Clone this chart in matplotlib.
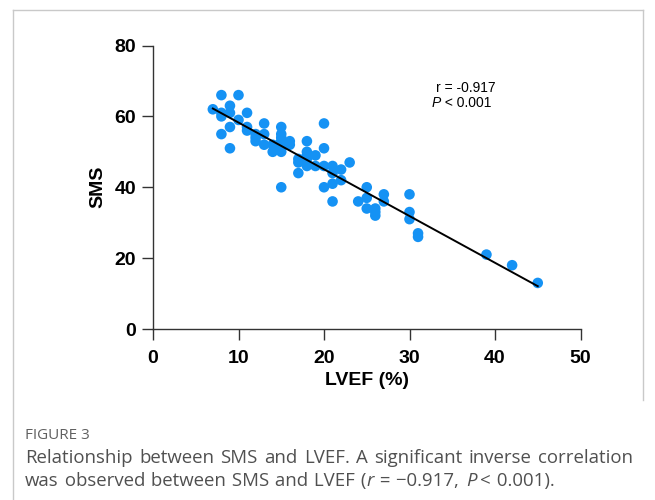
import matplotlib
matplotlib.use("Agg")
import matplotlib.pyplot as plt
import numpy as np
from matplotlib.lines import Line2D

# LVEF (%) and SMS for each patient
lvef = [7,
        8, 8, 8, 8,
        9, 9, 9, 9,
        10, 10,
        11, 11, 11,
        12, 12, 12,
        13, 13, 13,
        14, 14,
        15, 15, 15, 15, 15, 15, 15, 15,
        16, 16,
        17, 17, 17,
        18, 18, 18, 18, 18,
        19, 19,
        20, 20, 20, 20,
        21, 21, 21, 21,
        22, 22,
        23, 24,
        25, 25, 25,
        26, 26, 26,
        27, 27,
        30, 30, 30,
        31, 31,
        39, 42, 45]
sms = [62,
       66, 61, 60, 55,
       63, 61, 57, 51,
       66, 59,
       61, 57, 56,
       55, 54, 53,
       58, 55, 52,
       52, 50,
       57, 55, 54, 53, 52, 51, 50, 40,
       53, 52,
       48, 47, 44,
       53, 50, 49, 48, 46,
       49, 46,
       58, 51, 46, 40,
       46, 44, 41, 36,
       45, 42,
       47, 36,
       40, 37, 34,
       34, 33, 32,
       38, 36,
       38, 33, 31,
       27, 26,
       21, 18, 13]

r_text = "r = -0.917"
p_text = [("P", "italic"), (" < 0.001", "normal")]
fig_title = "FIGURE 3"
caption1 = "Relationship between SMS and LVEF. A significant inverse correlation"
caption2 = [("was", "normal"), (" observed", "normal"), (" between", "normal"),
            (" SMS", "normal"), (" and", "normal"), (" LVEF", "normal"), (" (", "normal"),
            ("r", "italic"), (" =", "normal"), (" \u22120.917,", "normal"), (" ", "normal"),
            ("P", "italic"), ("\u2009<", "normal"), (" 0.001).", "normal")]

W, H = 655, 500
fig = plt.figure(figsize=(W / 100, H / 100), dpi=100)
ax = fig.add_axes([153 / W, 1 - 329 / H, (580.5 - 153) / W, (329 - 45.5) / H])

x = np.array(lvef, dtype=float)
y = np.array(sms, dtype=float)
ax.scatter(x, y, s=58, color="#1592f4", edgecolors="none", zorder=2, clip_on=False)

# least squares line across the data range
k, b = np.polyfit(x, y, 1)
xx = np.array([x.min(), x.max()])
ax.plot(xx, k * xx + b, color="black", lw=1.4, zorder=3)

ax.set_xlim(0, 50)
ax.set_ylim(0, 80)
ax.set_xticks(range(0, 51, 10))
ax.set_yticks(range(0, 81, 20))
for side in ["top", "right"]:
    ax.spines[side].set_visible(False)
for side in ["left", "bottom"]:
    ax.spines[side].set_color("#333333")
    ax.spines[side].set_linewidth(1.0)
ax.tick_params(length=8, width=1.0, color="#333333")
ax.tick_params(axis="x", pad=7)
ax.tick_params(axis="y", pad=4)
for lab in ax.get_xticklabels() + ax.get_yticklabels():
    lab.set_family("Liberation Sans")
    lab.set_fontweight("bold")
    lab.set_fontsize(14)
ax.set_xlabel("LVEF (%)", family="Liberation Sans", fontweight="bold", fontsize=14, labelpad=4)
ax.set_ylabel("SMS", family="Liberation Sans", fontweight="bold", fontsize=14, labelpad=6)

# panel border and caption rule
border = "#c9c9c9"
fig.add_artist(Line2D([12.5 / W, 12.5 / W], [0, 1 - 10 / H], color=border, lw=1))
fig.add_artist(Line2D([12.5 / W, 642.5 / W], [1 - 10 / H, 1 - 10 / H], color=border, lw=1))
fig.add_artist(Line2D([642.5 / W, 642.5 / W], [1 - 10 / H, 1 - 400 / H], color=border, lw=1))

fig.canvas.draw()
renderer = fig.canvas.get_renderer()


def run(x0, ybase, parts, font, gap=0.0):
    xpos = x0
    for txt, st in parts:
        t = fig.text(xpos / W, 1 - ybase / H, txt, style=st, **font)
        xpos += t.get_window_extent(renderer).width + gap
    return xpos


stat_font = dict(family="Liberation Sans", fontsize=10, color="black", va="baseline")
run(436, 92, [(r_text, "normal")], stat_font)
run(432, 107, p_text, stat_font)

cap_font = dict(family="Open Sans", fontsize=13.4, color="#505050", va="baseline")
fig.text(25 / W, 1 - 439 / H, fig_title, family="Open Sans", fontsize=11,
         color="#606060", va="baseline")

# justified first line
words = caption1.split(" ")
widths = []
for w_ in words:
    t = fig.text(0, 0, w_, **cap_font)
    widths.append(t.get_window_extent(renderer).width)
    t.remove()
space = (633 - 25 - sum(widths)) / (len(words) - 1)
xpos = 25
for w_, wd in zip(words, widths):
    fig.text(xpos / W, 1 - 463 / H, w_, **cap_font)
    xpos += wd + space

run(25, 486, caption2, cap_font, gap=0.9)

fig.savefig("out.png", dpi=100)
